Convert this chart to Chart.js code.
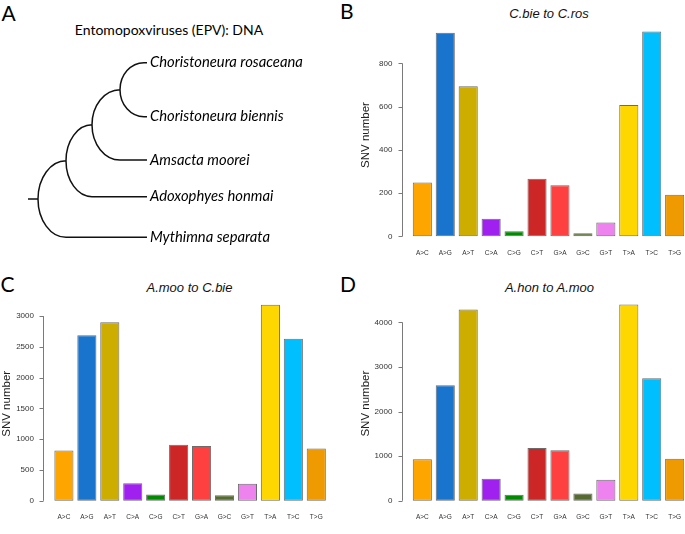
<!DOCTYPE html>
<html>
<head>
<meta charset="utf-8">
<script src="https://cdn.jsdelivr.net/npm/chart.js@4.4.0/dist/chart.umd.min.js"></script>
<style>
    html, body { margin: 0; padding: 0; background: #fff; overflow: hidden; width: 685px; height: 534px; }
    canvas { position: absolute; }
    .letter { position: absolute; font-family: Lato, sans-serif; font-size: 21px; line-height: 1; color: #000; }
    .ptitle { position: absolute; font-family: "Liberation Sans", Arial, sans-serif; font-style: italic; font-size: 13px;
              line-height: 1; transform: translate(-50%, -50%); white-space: nowrap; color: #111; }
    .treetitle { position: absolute; font-family: Lato, sans-serif; font-size: 14px; line-height: 1;
                 transform: translate(-50%, -50%); white-space: nowrap; color: #000; }
</style>
</head>
<body>
<div class="letter" style="left:1.5px; top:1.5px;">A</div>
<div class="letter" style="left:340px; top:-0.2px;">B</div>
<div class="letter" style="left:0.5px; top:273.2px;">C</div>
<div class="letter" style="left:340px; top:273.2px;">D</div>

<div class="treetitle" style="left:169px; top:29.5px;">Entomopoxviruses (EPV): DNA</div>
<div class="ptitle" style="left:549px; top:12.5px;">C.bie to C.ros</div>
<div class="ptitle" style="left:189.5px; top:287px;">A.moo to C.bie</div>
<div class="ptitle" style="left:549.5px; top:287px;">A.hon to A.moo</div>

<canvas id="treeA" width="340" height="265" style="left:0; top:0;"></canvas>
<canvas id="chartB" width="350" height="270" style="left:340px; top:0;"></canvas>
<canvas id="chartC" width="345" height="264" style="left:0; top:270px;"></canvas>
<canvas id="chartD" width="350" height="264" style="left:340px; top:270px;"></canvas>

<script>
// Данные: типы замен и число SNV
const mutationTypes = ["A>C", "A>G", "A>T", "C>A", "C>G", "C>T", "G>A", "G>C", "G>T", "T>A", "T>C", "T>G"];
const snvCbieCros = [249, 942, 695, 81, 24, 266, 237, 14, 64, 608, 948, 192];
const snvAmooCbie = [816, 2688, 2902, 285, 101, 912, 892, 92, 276, 3184, 2633, 851];
const snvAhonAmoo = [930, 2592, 4289, 493, 134, 1183, 1134, 162, 472, 4401, 2747, 944];
const ticksB = [0, 200, 400, 600, 800];
const ticksC = [0, 500, 1000, 1500, 2000, 2500, 3000];
const ticksD = [0, 1000, 2000, 3000, 4000];

// Дерево (лестница): корень первым
const taxa = ["Choristoneura rosaceana", "Choristoneura biennis", "Amsacta moorei", "Adoxophyes honmai", "Mythimna separata"];
const leafY = [62.7, 116.7, 160, 196.7, 237.3];
const nodeX = [38, 66, 92, 120];
const cherryX = 144;
const tipX = 147;
const rootStubX = 28;

const barColors = ["#FFA500", "#1874CD", "#CDAD00", "#A020F0", "#008B00", "#CD2626",
                   "#FF4040", "#556B2F", "#EE82EE", "#FFD700", "#00BFFF", "#EE9A00"];

// ось в стиле R: линия отступает от области графика
const rAxis = {
    id: "rAxis",
    afterDraw(chart) {
        const y = chart.scales.y;
        const ctx = chart.ctx;
        const x0 = Math.round(chart.chartArea.left - 9) + 0.5;
        const vals = y.ticks.map((t) => t.value);
        ctx.save();
        ctx.strokeStyle = "#7a7a7a";
        ctx.lineWidth = 1;
        ctx.beginPath();
        ctx.moveTo(x0, y.getPixelForValue(vals[0]));
        ctx.lineTo(x0, y.getPixelForValue(vals[vals.length - 1]));
        vals.forEach((v) => {
            const p = Math.round(y.getPixelForValue(v)) + 0.5;
            ctx.moveTo(x0, p);
            ctx.lineTo(x0 - 4, p);
        });
        ctx.stroke();
        ctx.restore();
    },
};

function barPanel(id, values, ticks, box) {
    return new Chart(document.getElementById(id), {
        type: "bar",
        data: {
            labels: mutationTypes,
            datasets: [
                {
                    data: values,
                    backgroundColor: barColors,
                    borderColor: "#6b6b6b",
                    borderWidth: 1,
                    borderSkipped: false,
                    barPercentage: 0.833,
                    categoryPercentage: 1,
                },
            ],
        },
        options: {
            responsive: false,
            animation: false,
            layout: { padding: { left: 0, right: box.right, top: box.top, bottom: 0 } },
            plugins: { legend: { display: false }, tooltip: { enabled: false } },
            scales: {
                x: {
                    grid: { display: false, drawTicks: false },
                    border: { display: false },
                    ticks: {
                        color: "#333",
                        font: { family: "'Liberation Sans', Arial, sans-serif", size: 6.5 },
                        padding: 2.5,
                        maxRotation: 0,
                        autoSkip: false,
                    },
                    afterFit: (scale) => { scale.height = box.xh; },
                },
                y: {
                    min: box.min,
                    max: box.max,
                    grid: { display: false, drawTicks: false },
                    border: { display: false },
                    ticks: {
                        color: "#333",
                        font: { family: "'Liberation Sans', Arial, sans-serif", size: 8 },
                        padding: 18.5,
                        callback: (v) => String(v),
                    },
                    afterBuildTicks: (scale) => { scale.ticks = ticks.map((v) => ({ value: v })); },
                    afterFit: (scale) => { scale.width = box.left; },
                    title: {
                        display: true,
                        text: "SNV number",
                        color: "#222",
                        font: { family: "'Liberation Sans', Arial, sans-serif", size: 11.5 },
                        padding: { top: box.tp, bottom: 0 },
                    },
                },
            },
        },
        plugins: [rAxis],
    });
}

barPanel("chartB", snvCbieCros, ticksB, { left: 70.85, right: 3.85, top: 21.5, xh: 21.8, min: -47.9, max: 985.9, tp: 18.9 });
barPanel("chartC", snvAmooCbie, ticksC, { left: 52.45, right: 17.25, top: 26.9, xh: 10.2, min: -160.7, max: 3312.4, tp: 0 });
barPanel("chartD", snvAhonAmoo, ticksD, { left: 70.85, right: 3.85, top: 26.6, xh: 10.2, min: -221.8, max: 4578.5, tp: 18.9 });

// Кладограмма с закруглёнными ветвями
const treePlugin = {
    id: "treePlugin",
    afterDatasetsDraw(chart) {
        const sx = chart.scales.x;
        const sy = chart.scales.y;
        const ctx = chart.ctx;
        const last = nodeX.length - 1;
        const nodeY = [];
        nodeY[last] = (leafY[0] + leafY[1]) / 2;
        for (let k = last - 1; k >= 0; k--) {
            nodeY[k] = (nodeY[k + 1] + leafY[taxa.length - 1 - k]) / 2;
        }
        ctx.save();
        ctx.strokeStyle = "#111";
        ctx.lineWidth = 1.5;
        ctx.beginPath();
        ctx.moveTo(sx.getPixelForValue(rootStubX), sy.getPixelForValue(nodeY[0]));
        ctx.lineTo(sx.getPixelForValue(nodeX[0]), sy.getPixelForValue(nodeY[0]));
        for (let k = 0; k <= last; k++) {
            const cx = k < last ? nodeX[k + 1] : cherryX;
            const yTop = k < last ? nodeY[k + 1] : leafY[0];
            const yBot = leafY[taxa.length - 1 - k];
            const px = sx.getPixelForValue(cx);
            const py = sy.getPixelForValue(nodeY[k]);
            const rx = px - sx.getPixelForValue(nodeX[k]);
            const ry = Math.abs(sy.getPixelForValue(yBot) - py);
            ctx.moveTo(px, sy.getPixelForValue(yBot));
            ctx.ellipse(px, py, rx, ry, 0, Math.PI / 2, (3 * Math.PI) / 2);
            ctx.moveTo(px, sy.getPixelForValue(yBot));
            ctx.lineTo(sx.getPixelForValue(tipX), sy.getPixelForValue(yBot));
            if (k === last) {
                ctx.moveTo(px, sy.getPixelForValue(yTop));
                ctx.lineTo(sx.getPixelForValue(tipX), sy.getPixelForValue(yTop));
            }
        }
        ctx.stroke();

        ctx.fillStyle = "#000";
        ctx.font = "italic 14.8px Lato, sans-serif";
        ctx.textBaseline = "alphabetic";
        taxa.forEach((name, i) => {
            ctx.fillText(name, sx.getPixelForValue(tipX + 3), sy.getPixelForValue(leafY[i] + 4.5));
        });
        ctx.restore();
    },
};

new Chart(document.getElementById("treeA"), {
    type: "scatter",
    data: {
        datasets: [{ data: leafY.map((y) => ({ x: tipX, y: y })), pointRadius: 0 }],
    },
    options: {
        responsive: false,
        animation: false,
        layout: { padding: 0 },
        plugins: { legend: { display: false }, tooltip: { enabled: false } },
        scales: {
            x: { type: "linear", display: false, min: 0, max: 340 },
            y: { type: "linear", display: false, min: 0, max: 265, reverse: true },
        },
    },
    plugins: [treePlugin],
});
</script>
</body>
</html>
